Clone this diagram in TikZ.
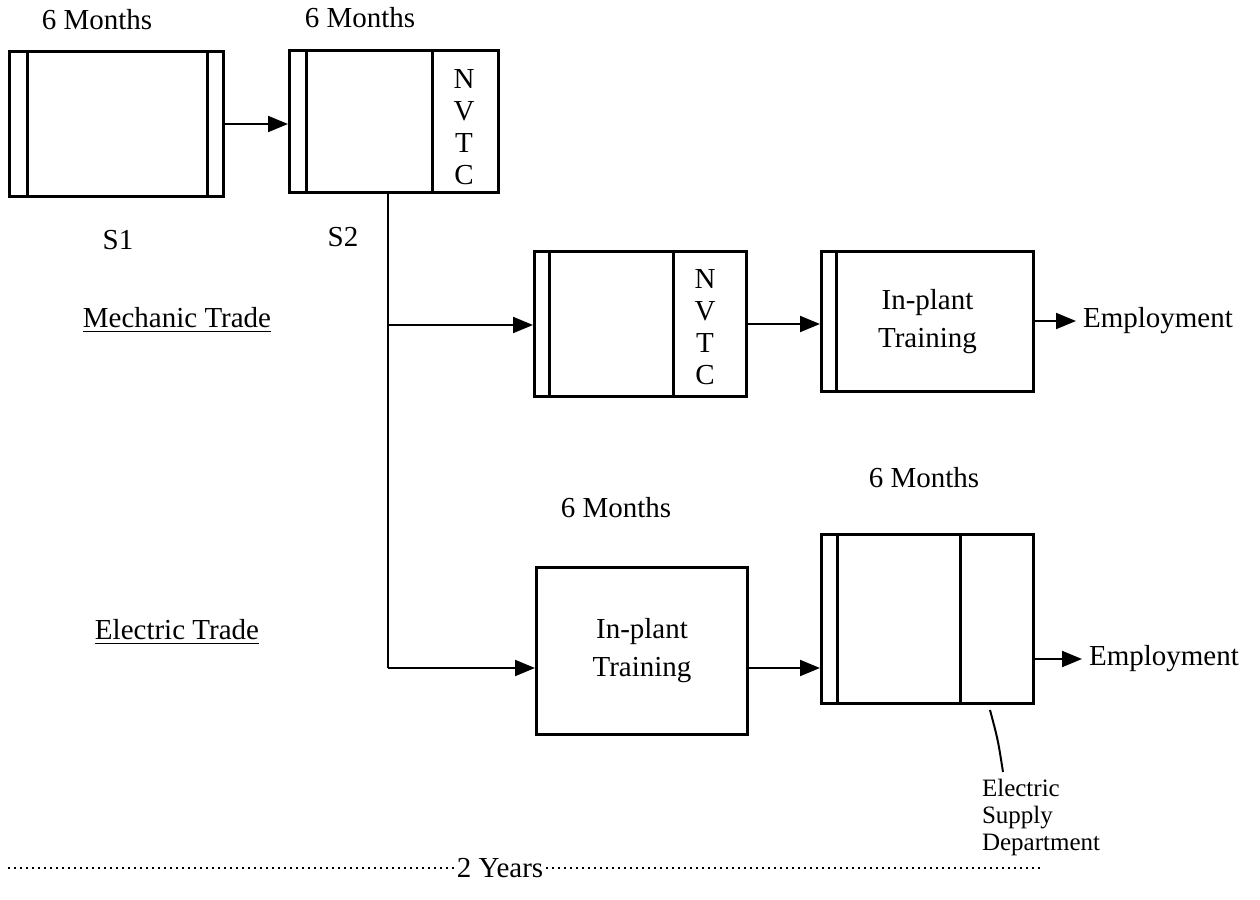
\documentclass[tikz,border=0pt]{standalone}
\usepackage{fontspec}
\setmainfont{Liberation Serif}
\usetikzlibrary{arrows.meta,calc}
\begin{document}
\begin{tikzpicture}[x=0.5pt,y=-0.5pt,
  box/.style={draw, line width=1.5pt, rectangle, inner sep=0pt, anchor=north west, align=center, font=\fontsize{14.5}{19}\selectfont},
  divider/.style={line width=1.5pt},
  conn/.style={line width=1pt, -{Triangle[length=10pt,width=8pt]}},
  plain/.style={line width=1pt},
  lbl/.style={font=\fontsize{14.5}{17}\selectfont},
  vert/.style={font=\fontsize{14.5}{16}\selectfont, align=center, inner sep=0pt},
  small/.style={font=\fontsize{12.5}{13.5}\selectfont, align=left},
  dots/.style={line width=1.4pt, dash pattern=on 1.2pt off 1.8pt}]
\useasboundingbox (0,0) rectangle (1260,900);

% boxes
\node[box, minimum width=107pt, minimum height=72.5pt] (s1) at (8,50) {};
\node[box, minimum width=104.5pt, minimum height=71pt] (s2) at (288,49) {};
\node[box, minimum width=106pt, minimum height=72.5pt] (m1) at (533,250) {};
\node[box, minimum width=106pt, minimum height=70pt] (m2) at (820,250) {In-plant\\Training};
\node[box, minimum width=105.5pt, minimum height=83.5pt] (e1) at (535,566) {In-plant\\Training};
\node[box, minimum width=106pt, minimum height=84.5pt] (e2) at (820,533) {};

% inner lines
\draw[divider] ($(s1.north west)+(19,0)$) -- ($(s1.south west)+(19,0)$);
\draw[divider] ($(s1.north east)+(-18,0)$) -- ($(s1.south east)+(-18,0)$);
\draw[divider] ($(s2.north west)+(18,0)$) -- ($(s2.south west)+(18,0)$);
\draw[divider] ($(s2.north west)+(144,0)$) -- ($(s2.south west)+(144,0)$);
\draw[divider] ($(m1.north west)+(16,0)$) -- ($(m1.south west)+(16,0)$);
\draw[divider] ($(m1.north west)+(140,0)$) -- ($(m1.south west)+(140,0)$);
\draw[divider] ($(m2.north west)+(16,0)$) -- ($(m2.south west)+(16,0)$);
\draw[divider] ($(e2.north west)+(17,0)$) -- ($(e2.south west)+(17,0)$);
\draw[divider] ($(e2.north west)+(140,0)$) -- ($(e2.south west)+(140,0)$);

% texts
\node[lbl] (t1) at (97,20) {6 Months};
\node[lbl] (t2) at (360,18) {6 Months};
\node[lbl] (t3) at (616,508) {6 Months};
\node[lbl] (t4) at (924,478) {6 Months};
\node[lbl] (l1) at (118,240) {S1};
\node[lbl] (l2) at (343,237) {S2};
\node[lbl] (mt) at (177,320) {\underline{Mechanic Trade}};
\node[lbl] (et) at (177,632) {\underline{Electric Trade}};
\node[vert] (n1) at (464,127) {N\\V\\T\\C};
\node[vert] (n2) at (705,327) {N\\V\\T\\C};
\node[lbl, anchor=west] (emp1) at (1076,321) {Employment};
\node[lbl, anchor=west] (emp2) at (1082,659) {Employment};
\node[small, anchor=north west] (esd) at (975,772) {Electric\\Supply\\Department};
\node[lbl, inner sep=1pt] (yr) at (500,868) {2 Years};

% connectors
\coordinate (b0) at (388,191);
\coordinate (bm) at (388,325);
\coordinate (be) at (388,668);
\draw[conn] (s1.east) -- (s1.east -| s2.west);
\draw[plain] (b0) -- (be);
\draw[conn] (bm) -- (bm -| m1.west);
\draw[conn] (be) -- (be -| e1.west);
\draw[conn] (m1.east) -- (m1.east -| m2.west);
\draw[conn] (m2.east |- emp1.west) -- (emp1.west);
\draw[conn] (e1.east |- be) -- (e2.west |- be);
\draw[conn] (e2.east |- emp2.west) -- (emp2.west);
\coordinate (lp) at (990,710);
\draw[plain] (lp) .. controls (998,740) .. ($(esd.north west)+(28,0)$);

% time line
\coordinate (dl) at (8,868);
\coordinate (dr) at (1040,868);
\draw[dots] (dl) -- (yr.west);
\draw[dots] (yr.east) -- (dr);
\end{tikzpicture}
\end{document}
